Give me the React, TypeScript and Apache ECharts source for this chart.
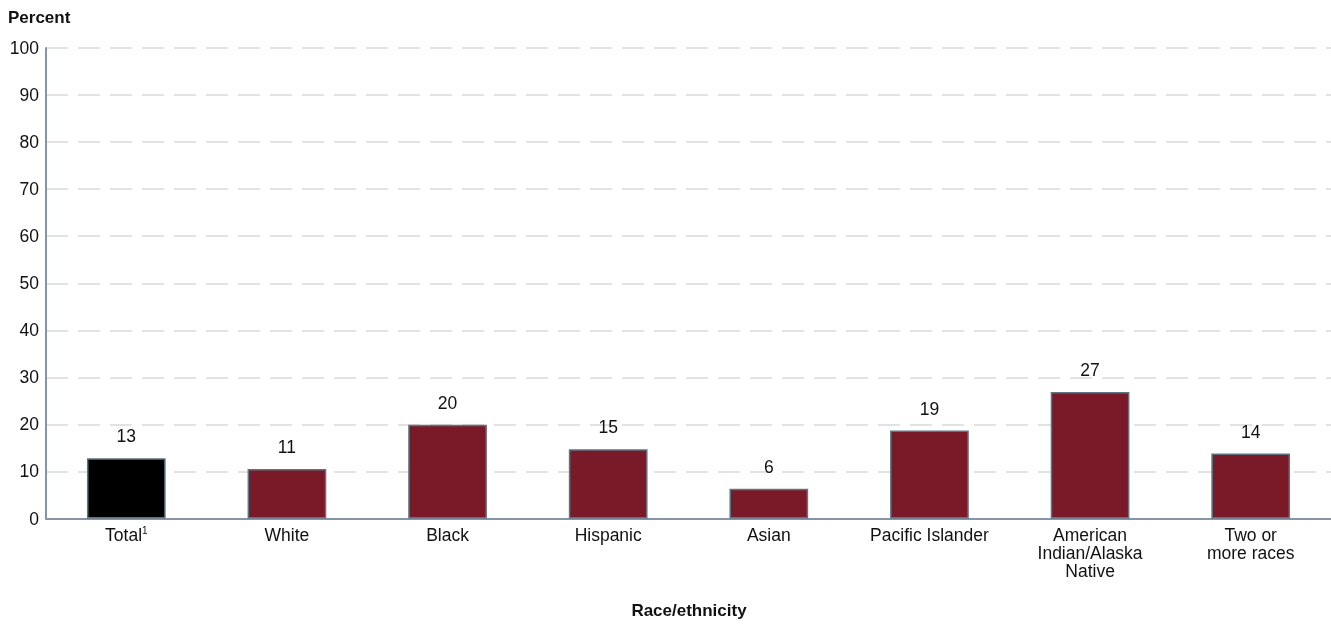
import React, { useEffect, useRef } from "react";
import * as echarts from "echarts";

const categories = [
  "Total",
  "White",
  "Black",
  "Hispanic",
  "Asian",
  "Pacific Islander",
  "American\nIndian/Alaska\nNative",
  "Two or\nmore races",
];
const values = [12.8, 10.5, 19.9, 14.7, 6.3, 18.7, 26.9, 13.8];
const barColors = ["#000000", "#7a1a29", "#7a1a29", "#7a1a29", "#7a1a29", "#7a1a29", "#7a1a29", "#7a1a29"];
const yTicks = [0, 10, 20, 30, 40, 50, 60, 70, 80, 90, 100];

const FONT = "Liberation Sans, Arial, sans-serif";

export default function App() {
  const ref = useRef<HTMLDivElement>(null);
  useEffect(() => {
    if (!ref.current) return;
    const chart = echarts.init(ref.current, null, { renderer: "svg" });
    chart.setOption({
      animation: false,
      textStyle: { fontFamily: FONT },
      title: [
        {
          text: "Percent",
          left: 8,
          top: 9,
          padding: 0,
          textStyle: { fontFamily: FONT, fontSize: 17, fontWeight: "bold", color: "#111" },
        },
        {
          text: "Race/ethnicity",
          left: 689,
          top: 602,
          padding: 0,
          textAlign: "center",
          textStyle: { fontFamily: FONT, fontSize: 17, fontWeight: "bold", color: "#111" },
        },
      ],
      grid: { left: 46, right: 0, top: 48, bottom: 105.5, containLabel: false },
      xAxis: {
        type: "category",
        data: categories,
        axisLine: { show: true, lineStyle: { color: "#8595a3", width: 2 } },
        axisTick: { show: false },
        axisLabel: {
          interval: 0,
          color: "#111",
          fontSize: 17.5,
          fontFamily: FONT,
          lineHeight: 18,
          margin: 7,
          formatter: (v: string) => (v === "Total" ? "Total{sup|1}" : v),
          rich: {
            sup: { fontSize: 10, verticalAlign: "top", padding: [0, 0, 6, 0], color: "#111", fontFamily: FONT },
          },
        },
      },
      yAxis: {
        type: "value",
        min: yTicks[0],
        max: yTicks[yTicks.length - 1],
        interval: 10,
        axisLine: { show: true, lineStyle: { color: "#8595a3", width: 2 } },
        axisTick: { show: false },
        axisLabel: { color: "#111", fontSize: 17.5, fontFamily: FONT, margin: 7 },
        splitLine: { show: true, lineStyle: { color: "#d9d9d9", type: [22, 10], width: 1.5 } },
      },
      series: [
        {
          type: "bar",
          data: values.map((v, i) => ({ value: v, itemStyle: { color: barColors[i] } })),
          barWidth: "49%",
          itemStyle: { borderColor: "#5f7383", borderWidth: 1.5 },
          label: {
            show: true,
            position: "top",
            distance: 13,
            color: "#111",
            fontSize: 17.5,
            fontFamily: FONT,
            formatter: (p: any) => String(Math.round(p.value)),
          },
        },
      ],
    });
    return () => chart.dispose();
  }, []);
  return <div ref={ref} style={{ position: "fixed", left: 0, top: 0, width: 1331, height: 624 }} />;
}
